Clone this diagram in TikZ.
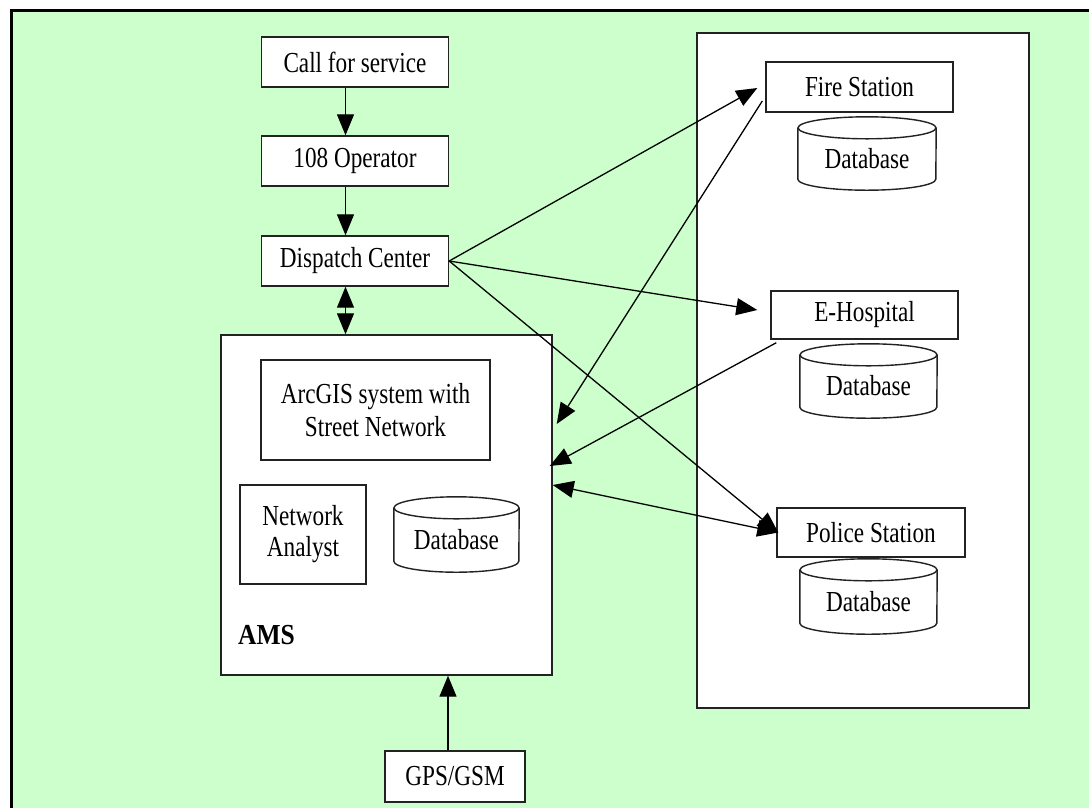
\documentclass[tikz,border=0pt]{standalone}
\usepackage{fontspec}
\setmainfont{Liberation Serif}[FakeStretch=0.8]
\newfontfamily\labelfont{Liberation Serif}[FakeStretch=0.88]
\usetikzlibrary{arrows.meta,calc}
\definecolor{panelgreen}{HTML}{CCFFCC}
\definecolor{edge}{HTML}{222222}

% text of a database cylinder, set a little below the centre of its body
\newcommand\dbtext{\raisebox{-5pt}[\height][\depth]{Database}}
% outline of a database cylinder around node #1, half width #2
\newcommand\drawdb[2]{%
  \draw[dbline] ($(#1.north west)+(0,11)$) -- ($(#1.south west)+(0,-11)$)
    arc[start angle=180,end angle=360,x radius=#2,y radius=11pt]
    -- ($(#1.north east)+(0,11)$);
  \draw[dbline] ($(#1.north)+(0,11)$) ellipse[x radius=#2,y radius=11pt];}

\tikzset{
  box/.style={draw=edge, line width=1.4pt, fill=white, align=center,
    inner sep=0pt, font=\fontsize{29}{33}\selectfont},
  panel/.style={draw=edge, line width=1.4pt, fill=white, inner sep=0pt},
  dbnode/.style={inner sep=0pt, font=\fontsize{29}{33}\selectfont},
  dbline/.style={draw=edge, line width=1.4pt},
  arr/.style={line width=1.3pt, -{Triangle[length=21pt,width=17pt]}},
  darr/.style={line width=1.3pt,
    {Triangle[length=21pt,width=17pt]}-{Triangle[length=21pt,width=17pt]}},
}

\begin{document}
\begin{tikzpicture}[x=1pt,y=-1pt]
\useasboundingbox (0,0) rectangle (1089,807);
\fill[white] (0,0) rectangle (1089,807);
% green sheet with its black frame
\draw[line width=3pt, fill=panelgreen] (11.8,10.8) rectangle (1200,900);

% right-hand panel with the three services
\node[panel, minimum width=332pt, minimum height=675pt] (services) at (863,370.5) {};
% AMS block
\node[panel, minimum width=331pt, minimum height=340pt] (ams) at (386.5,505) {};

% call chain
\node[box, minimum width=187pt, minimum height=50pt] (call) at (355,62) {Call for service};
\node[box, minimum width=187pt, minimum height=50pt] (op) at (355,161) {108 Operator};
\node[box, minimum width=187pt, minimum height=50pt] (disp) at (355,261) {Dispatch Center};

% inside AMS
\node[box, minimum width=229pt, minimum height=100pt] (arcgis) at (375.5,410) {ArcGIS system with\\Street Network};
\node[box, minimum width=126pt, minimum height=99pt, font=\fontsize{29}{31}\selectfont] (na) at (303,534.5) {Network\\Analyst};
\node[dbnode, minimum width=125pt, minimum height=75pt] (amsdb) at (456.5,534.5) {\dbtext};
\drawdb{amsdb}{62.5pt}
\node[font=\labelfont\bfseries\fontsize{29}{33}\selectfont, anchor=base west, inner sep=0pt] (amslabel) at (238,644) {AMS};

% services
\node[box, minimum width=187pt, minimum height=50pt] (fire) at (859.5,87) {Fire Station};
\node[dbnode, minimum width=138pt, minimum height=73pt] (firedb) at (867,153.5) {\dbtext};
\drawdb{firedb}{69pt}
\node[box, minimum width=187pt, minimum height=48pt] (hosp) at (864.5,315) {E-Hospital};
\node[dbnode, minimum width=137pt, minimum height=74pt] (hospdb) at (868.5,381) {\dbtext};
\drawdb{hospdb}{68.5pt}
\node[box, minimum width=188pt, minimum height=49pt] (pol) at (871,532.5) {Police Station};
\node[dbnode, minimum width=137pt, minimum height=75pt] (poldb) at (868.5,596.5) {\dbtext};
\drawdb{poldb}{68.5pt}

% positioning source
\node[box, minimum width=140pt, minimum height=51pt] (gps) at (455,776.5) {GPS/GSM};

% connector end points
\coordinate (callS) at ([xshift=-9.5pt]call.south);
\coordinate (opN) at ([xshift=-9.5pt]op.north);
\coordinate (opS) at ([xshift=-9.5pt]op.south);
\coordinate (dispN) at ([xshift=-9.5pt]disp.north);
\coordinate (dispS) at ([xshift=-9.5pt]disp.south);
\coordinate (amsN) at (dispS |- ams.north);
\coordinate (fireIn) at ($(fire.west)+(-8,1)$);
\coordinate (fireOut) at ($(fire.west)+(-3,14)$);
\coordinate (hospIn) at ($(hosp.west)+(-13,-5)$);
\coordinate (hospOut) at ($(hosp.south west)+(6,3)$);
\coordinate (polIn) at ($(pol.west)+(2,0)$);
\coordinate (amsFire) at ($(ams.east)+(4,-81)$);
\coordinate (amsHosp) at ($(ams.east)+(-3,-39)$);
\coordinate (amsPol) at ($(ams.east)+(0,-20)$);
\coordinate (gpsN) at ([xshift=-7pt]gps.north);
\coordinate (amsS) at (gpsN |- ams.south);

\draw[arr] (callS) -- (opN);
\draw[arr] (opS) -- (dispN);
\draw[darr] (dispS) -- (amsN);
\draw[arr] (disp.east) -- (fireIn);
\draw[arr] (disp.east) -- (hospIn);
\draw[arr] (disp.east) -- (polIn);
\draw[arr] (fireOut) -- (amsFire);
\draw[arr] (hospOut) -- (amsHosp);
\draw[darr] (amsPol) -- (polIn);
\draw[arr] (gpsN) -- (amsS);
\end{tikzpicture}
\end{document}
